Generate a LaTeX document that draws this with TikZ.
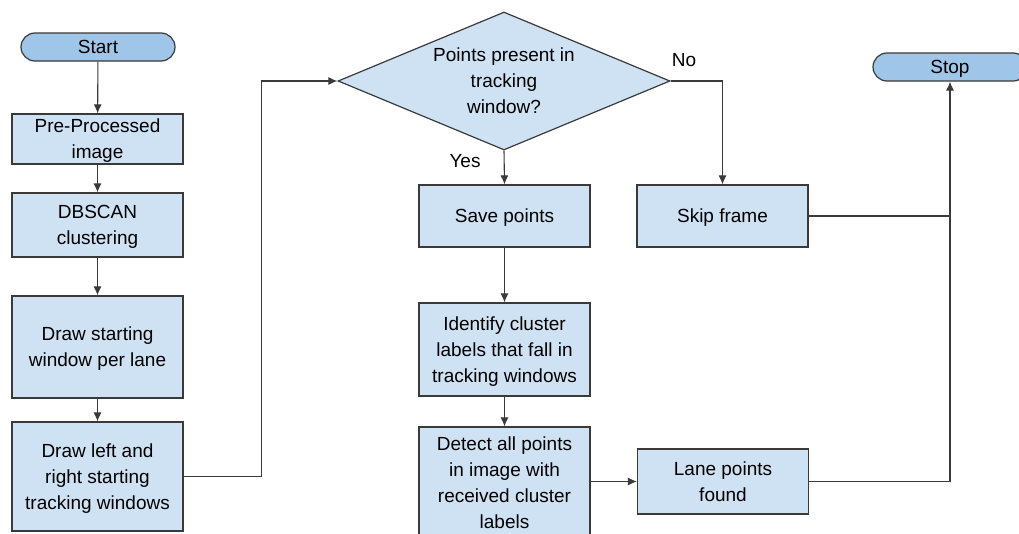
\documentclass[tikz,border=0pt]{standalone}
\usepackage{fontspec}
\setmainfont{Liberation Sans}
\usetikzlibrary{arrows.meta,shapes.geometric,shapes.misc}
\definecolor{boxfill}{HTML}{CFE2F3}
\definecolor{termfill}{HTML}{9FC5E8}
\definecolor{edge}{HTML}{3A3A3A}
\begin{document}
\begin{tikzpicture}[x=1pt,y=-1pt,
  every node/.style={font=\fontsize{19}{26}\selectfont, text=black},
  procbox/.style={draw=edge, line width=1.2pt, fill=boxfill, rectangle,
    align=center, inner sep=0pt, text depth=0pt, minimum width=171pt},
  terminal/.style={draw=edge, line width=1.2pt, fill=termfill, rounded rectangle,
    inner sep=0pt, text depth=0pt, minimum width=154pt, minimum height=28pt},
  decision/.style={draw=edge, line width=1.2pt, fill=boxfill, diamond, aspect=2.4,
    align=center, inner sep=0pt, minimum width=332pt, minimum height=138pt},
  link/.style={draw=edge, line width=1.1pt},
  arr/.style={link, -{Latex[length=9pt,width=8pt]}},
  tag/.style={inner sep=0pt}]
\useasboundingbox (0,0) rectangle (1019,533);
\clip (0,0) rectangle (1019,533);
\fill[white] (0,0) rectangle (1019,533);

% left column
\node[terminal] (start) at (98,47) {Start};
\node[procbox, minimum height=50pt] (pre) at (97.5,139) {Pre-Processed\\image};
\node[procbox, minimum height=64pt] (dbscan) at (97.5,225) {DBSCAN\\clustering};
\node[procbox, minimum height=102pt] (dsw) at (97.5,347) {Draw starting\\window per lane};
\node[procbox, minimum height=109pt] (dlr) at (97.5,476.5) {Draw left and\\right starting\\tracking windows};

% decision and middle column
\node[decision] (dec) at (504,81) {Points present in\\tracking\\window?};
\node[procbox, minimum height=62pt] (save) at (504.5,216) {Save points};
\node[procbox, minimum height=93pt] (ident) at (504.5,349.5) {Identify cluster\\labels that fall in\\tracking windows};
\node[procbox, minimum height=111pt] (detect) at (504.5,482.5) {Detect all points\\in image with\\received cluster\\labels};

% right columns
\node[procbox, minimum height=62pt] (skip) at (722.5,216) {Skip frame};
\node[procbox, minimum height=65pt] (lane) at (723,481.5) {Lane points\\found};
\node[terminal] (stop) at (950,67) {Stop};

% branch labels
\node[tag] (yes) at (465,161) {Yes};
\node[tag] (no) at (684,60) {No};

% connectors
\draw[arr] (start) -- (pre);
\draw[arr] (pre) -- (dbscan);
\draw[arr] (dbscan) -- (dsw);
\draw[arr] (dsw) -- (dlr);
\draw[arr] (dlr.east) -- ++(78,0) |- (dec.west);
\draw[arr] (dec.south) -- (save.north);
\draw[arr] (dec.east) -| (skip.north);
\draw[arr] (save) -- (ident);
\draw[arr] (ident) -- (detect);
\draw[arr] (detect.east |- lane.west) -- (lane.west);
\coordinate (join) at (stop.south |- skip.east);
\draw[link] (skip.east) -- (join);
\draw[arr] (lane.east) -| (stop.south);
\end{tikzpicture}
\end{document}
